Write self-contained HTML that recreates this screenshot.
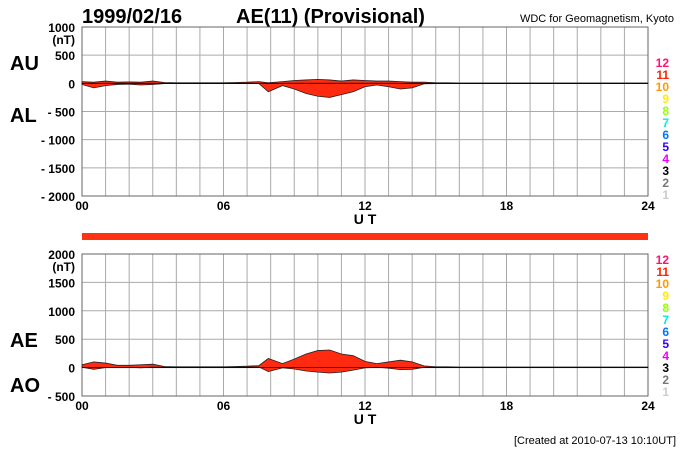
<!DOCTYPE html>
<html><head><meta charset="utf-8"><style>
body{margin:0;background:#fff;width:700px;height:450px;overflow:hidden}
svg{font-family:"Liberation Sans",sans-serif;font-weight:bold}
</style></head><body>
<svg id="c" width="700" height="450">
<text x="82" y="23" font-size="20">1999/02/16</text>
<text x="236" y="23" font-size="20">AE(11) (Provisional)</text>
<text x="674" y="22" font-size="11" font-weight="normal" text-anchor="end">WDC for Geomagnetism, Kyoto</text>
<text x="676" y="444" font-size="11" font-weight="normal" text-anchor="end">[Created at 2010-07-13 10:10UT]</text>
<text x="10" y="70" font-size="20">AU</text>
<text x="10" y="122" font-size="20">AL</text>
<text x="10" y="347" font-size="20">AE</text>
<text x="10" y="392" font-size="20">AO</text>
<rect x="82" y="233" width="566" height="7" fill="#ff3311"/>
<g id="g"></g>
</svg>
<script>
const hours=[0,0.5,1,1.5,2,2.5,3,3.5,4,4.5,5,5.5,6,6.5,7,7.5,7.9,8.5,9,9.5,10,10.5,11,11.5,12,12.5,13,13.5,14,14.5,15,15.5,16,16.5,17,18,19,20,21,22,23,24];
const auValues=[30,20,40,20,25,20,40,15,10,10,10,10,10,15,20,30,10,30,50,60,70,60,40,60,50,40,40,30,20,20,10,10,5,5,5,5,5,5,5,5,5,5];
const alValues=[-20,-80,-40,-20,-15,-30,-20,-5,-5,-5,-5,-5,-5,-5,-5,-5,-150,-40,-100,-180,-230,-250,-200,-150,-60,-30,-60,-100,-80,-10,-5,-5,-5,-5,-5,-5,-5,-5,-5,-5,-5,-5];
const topTicks=[1000,500,0,-500,-1000,-1500,-2000];
const botTicks=[2000,1500,1000,500,0,-500];
const xTicks=["00","06","12","18","24"];
const legendNums=[12,11,10,9,8,7,6,5,4,3,2,1];
const legendCols=["#ff1177","#ff2200","#ff9900","#ffee00","#99ff00","#00eedd","#0077ff","#3300ff","#ee00ff","#000","#777","#ccc"];
const NS="http://www.w3.org/2000/svg",g=document.getElementById('g');
const x0=82,x1=648;const X=h=>x0+(x1-x0)*h/24;
function mk(t,a,p){const e=document.createElementNS(NS,t);for(const k in a)e.setAttribute(k,a[k]);(p||g).appendChild(e);return e;}
function panel(top,bot,vmax,vmin,ticks,name,upper,lower,lgTop){
 const Y=v=>top+(vmax-v)/(vmax-vmin)*(bot-top);
 const pg=mk('g',{});
 for(let h=0;h<=24;h++)mk('line',{x1:X(h),x2:X(h),y1:top,y2:bot,stroke:'#aaa','stroke-width':1},pg);
 ticks.forEach(v=>{mk('line',{x1:x0,x2:x1,y1:Y(v),y2:Y(v),stroke:'#aaa','stroke-width':1},pg);
  const t=mk('text',{x:75,y:Y(v)+5,'font-size':12,'text-anchor':'end'},pg);t.textContent=v<0?'- '+(-v):v;
  });
 const u=mk('text',{x:75,y:Y(vmax)+17,'font-size':12,'text-anchor':'end'},pg);u.textContent='(nT)';
 mk('rect',{x:x0,y:top,width:x1-x0,height:bot-top,fill:'none',stroke:'#666'},pg);
 let d='';hours.forEach((h,i)=>{d+=(i?'L':'M')+X(h)+','+Y(upper[i]);});
 for(let i=hours.length-1;i>=0;i--)d+='L'+X(hours[i])+','+Y(lower[i]);
 const p=mk('path',{d:d+'Z',fill:'#ff2a10',stroke:'#222','stroke-width':0.8},pg);
 
 mk('line',{x1:x0,x2:x1,y1:Y(0),y2:Y(0),stroke:'#000','stroke-width':0.8},pg);
 xTicks.forEach((s,i)=>{const t=mk('text',{x:X(i*6),y:bot+14,'font-size':12,'text-anchor':'middle'},pg);t.textContent=s;
  });
 const ut=mk('text',{x:365,y:bot+28,'font-size':14,'text-anchor':'middle'},pg);ut.textContent='U T';
 
 legendNums.forEach((n,i)=>{const t=mk('text',{x:669,y:lgTop+i*12,'font-size':12,'text-anchor':'end',fill:legendCols[i]},pg);t.textContent=n;
  });
}
panel(27,196,1000,-2000,topTicks,'au-al',auValues,alValues,67);
const aeValues=auValues.map((u,i)=>u-alValues[i]);
const aoValues=auValues.map((u,i)=>(u+alValues[i])/2);
panel(254,396,2000,-500,botTicks,'ae-ao',aeValues,aoValues,264);
</script>
</body></html>
